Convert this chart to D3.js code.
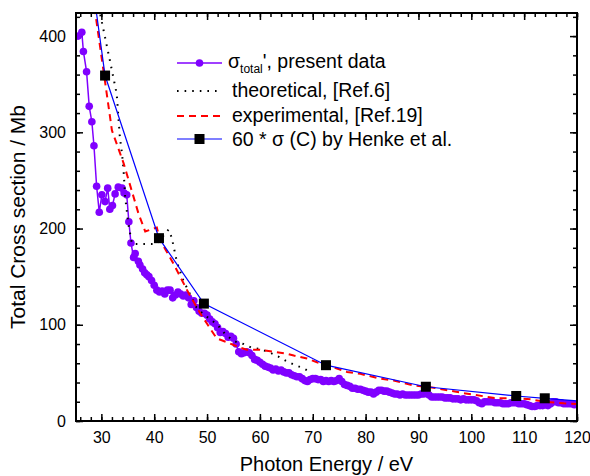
<!DOCTYPE html>
<html>
<head>
<meta charset="utf-8">
<script src="https://cdn.jsdelivr.net/npm/d3@7"></script>
<style>
body{margin:0;background:#fff;}
svg{font-family:Arial,"Liberation Sans",sans-serif;}
</style>
</head>
<body>
<svg id="chart" width="590" height="476"></svg>
<script>
//---------------------------------------------------------------- data
let presentEnergy = [25.6,26.3,26.6,27.2,27.7,28.2,28.6,29.1,29.6,30.1,30.7,31.2,31.6,32.1,32.6,33.2,33.9,34.3,34.8,35.2,35.6,36.1,36.4,
    37.0,37.3,37.8,38.2,38.6,39.0,39.5,40.0,40.5,41.0,41.5,42.0,42.5,43.0,43.5,44.0,44.5,45.0,45.5,46.0,46.5,47.0,47.5,48.0,48.5,49.0,49.5,
    50.0,50.5,51.0,51.5,52.0,52.5,53.0,53.5,54.0,54.5,55.0,55.5,56.0,56.5,57.0,57.5,58.0,58.5,59.0,59.5,60.0,60.5,61.0,61.5,62.0,62.5,
    63.0,63.5,64.0,64.5,65.0,65.5,66.0,66.5,67.0,67.5,68.0,68.5,69.0,69.5,70.0,70.5,71.0,71.5,72.0,72.5,73.0,73.5,74.0,74.5,75.0,75.5,
    76.0,76.5,77.0,77.5,78.0,78.5,79.0,79.5,80.0,80.5,81.0,81.5,82.0,82.5,83.0,83.5,84.0,84.5,85.0,85.5,86.0,86.5,87.0,87.5,88.0,88.5,
    89.0,89.5,90.0,90.5,91.0,91.5,92.0,92.5,93.0,93.5,94.0,94.5,95.0,95.5,96.0,96.5,97.0,97.5,98.0,98.5,99.0,99.5,100.0,100.5,101.0,
    101.5,102.0,102.5,103.0,103.5,104.0,104.5,105.0,105.5,106.0,106.5,107.0,107.5,108.0,108.5,109.0,109.5,110.0,110.5,111.0,111.5,
    112.0,112.5,113.0,113.5,114.0,114.5,115.0,115.5,116.0,116.5,117.0,117.5,118.0,118.5,119.0,119.5];
let presentSigma = [400,404,384,363,327,311,286,244,217,235,228,242,220,224,236,243,242,237,235,207,185,170,174,
    166,162,158,154,152,150,146,141,136,134,135,132,136,136,128,131,134,132,130,131,128,121,125,118,114,112,112,
    110,106,103,101,97,92,93,91,87,88,86,80,72,70,71,72,71,68,64,63,61,59,57,56,55,53,
    54,52,53,51,50,50,48,47,46,46,44,42,41,43,44,44,43,43,41,42,41,42,41,42,44,41,
    38,37,36,34,34,33,33,32,31,30,30,28,30,32,32,31,31,30,29,28,28,27,28,27,27,27,
    27,27,27,28,28,30,27,25,25,25,25,25,24,24,24,23,23,23,22,23,22,22,22,22,21,
    19,18,20,20,20,20,19,19,19,18,18,18,19,19,19,18,18,18,17,16,15,
    15,16,16,16,17,16,18,20,20,19,19,18,18,18,18,17];

let theoryEnergy = [29.5,31.6,32.9,33.5,33.9,34.2,34.5,35.1,35.8,38.0,40.5,42.7,43.3,44.3,45.5,46.5,48.0,49.5,50.6,52.1,53.5,55.0,
    56.9,58.5,60.0,61.9,63.5,65.1,66.7,68.2,69.8];
let theorySigma = [430,375,340,295,278,261,233,205,184,184,184,199,191,165,146,135,118,110,106,99,90,83,
    80,76,75,71,67,62,58,55,50];

let exptEnergy = [28.7,32.0,34.2,37.0,38.3,40.5,41.1,43.6,46.5,48.7,50.0,51.8,53.7,55.9,57.5,60.0,62.6,65.1,66.4,68.9,70.8,73.3,
    76.5,79.0,82.8,85.3,89.1,92.2,93.5,98.5,104.9,108.5,111.2,114.0,117.5,120.0];
let exptSigma = [430,302,268,216,197,201,188,164,133,112,101,86,82,77,74,74,72,70,68,65,61,57,
    51,49,44,42,37,35,34,29,23.5,24,22.5,20,18.4,17.7];

let henkeEnergy = [28.8,30.7,40.9,49.4,72.5,91.4,108.5,113.9,125];
let henkeSigma = [435,359,190,122,58,35.6,26,23.6,18.7];

let xTicks = [30,40,50,60,70,80,90,100,110,120];
let yTicks = [0,100,200,300,400];
let legendLabels = ["theoretical, [Ref.6]","experimental, [Ref.19]","60 * \u03c3 (C) by Henke et al."];

//---------------------------------------------------------------- scales
let svg = d3.select("#chart");
let mLeft = 76, mRight = 577, mTop = 13, mBottom = 421;
let xScale = d3.scaleLinear().domain([25.2,120]).range([mLeft,mRight]);
let yScale = d3.scaleLinear().domain([0,424]).range([mBottom,mTop]);

svg.append("clipPath").attr("id","clip").append("rect")
    .attr("x",mLeft).attr("y",mTop).attr("width",mRight-mLeft).attr("height",mBottom-mTop);

//---------------------------------------------------------------- axes (ticks point inward, all four sides)
let xMinor = d3.range(26,121,2);
let yMinor = d3.range(0,424,20);

function styleAxis(g){
    g.select(".domain").remove();
    g.selectAll(".tick line").attr("stroke","#000").attr("stroke-width",1.5);
    g.selectAll("text").attr("font-size","16px").attr("fill","#000");
}

svg.append("g").attr("transform","translate(0,"+mBottom+")")
    .call(d3.axisBottom(xScale).tickValues(xMinor).tickSize(-4).tickFormat("")).call(styleAxis);
svg.append("g").attr("transform","translate(0,"+mBottom+")")
    .call(d3.axisBottom(xScale).tickValues(xTicks).tickSize(-7).tickPadding(11)).call(styleAxis);
svg.append("g").attr("transform","translate(0,"+mTop+")")
    .call(d3.axisTop(xScale).tickValues(xMinor).tickSize(-4).tickFormat("")).call(styleAxis);
svg.append("g").attr("transform","translate(0,"+mTop+")")
    .call(d3.axisTop(xScale).tickValues(xTicks).tickSize(-7).tickFormat("")).call(styleAxis);

svg.append("g").attr("transform","translate("+mLeft+",0)")
    .call(d3.axisLeft(yScale).tickValues(yMinor).tickSize(-4).tickFormat("")).call(styleAxis);
svg.append("g").attr("transform","translate("+mLeft+",0)")
    .call(d3.axisLeft(yScale).tickValues(yTicks).tickSize(-7).tickPadding(10)).call(styleAxis);
svg.append("g").attr("transform","translate("+mRight+",0)")
    .call(d3.axisRight(yScale).tickValues(yMinor).tickSize(-4).tickFormat("")).call(styleAxis);
svg.append("g").attr("transform","translate("+mRight+",0)")
    .call(d3.axisRight(yScale).tickValues(yTicks).tickSize(-7).tickFormat("")).call(styleAxis);

//---------------------------------------------------------------- series
let plot = svg.append("g").attr("clip-path","url(#clip)");
let line = d3.line().x(d => xScale(d[0])).y(d => yScale(d[1]));

let present = presentEnergy.map((e,i) => [e,presentSigma[i]]);
let theory = theoryEnergy.map((e,i) => [e,theorySigma[i]]);
let expt = exptEnergy.map((e,i) => [e,exptSigma[i]]);
let henke = henkeEnergy.map((e,i) => [e,henkeSigma[i]]);

let purple = "#8000ff";
plot.append("path").datum(present).attr("d",line)
    .attr("fill","none").attr("stroke",purple).attr("stroke-width",1.5);
plot.selectAll(".pt").data(present).enter().append("circle").attr("class","pt")
    .attr("cx",d => xScale(d[0])).attr("cy",d => yScale(d[1])).attr("r",3.8).attr("fill",purple);

plot.append("path").datum(theory).attr("d",line)
    .attr("fill","none").attr("stroke","#000").attr("stroke-width",2).attr("stroke-dasharray","1.6,6");

plot.append("path").datum(expt).attr("d",line)
    .attr("fill","none").attr("stroke","#ff0000").attr("stroke-width",2).attr("stroke-dasharray","7,5");

plot.append("path").datum(henke).attr("d",line)
    .attr("fill","none").attr("stroke","#0000ff").attr("stroke-width",1.2);
plot.selectAll(".sq").data(henke).enter().append("rect").attr("class","sq")
    .attr("x",d => xScale(d[0])-5).attr("y",d => yScale(d[1])-5)
    .attr("width",10).attr("height",10).attr("fill","#000");

//---------------------------------------------------------------- frame
svg.append("rect").attr("x",mLeft).attr("y",mTop).attr("width",mRight-mLeft).attr("height",mBottom-mTop)
    .attr("fill","none").attr("stroke","#000").attr("stroke-width",2);

//---------------------------------------------------------------- legend
let legend = svg.append("g");
let lx1 = 177, lx2 = 222;
legend.append("line").attr("x1",lx1).attr("x2",lx2).attr("y1",63).attr("y2",63)
    .attr("stroke",purple).attr("stroke-width",1.5);
legend.append("circle").attr("cx",199.5).attr("cy",63).attr("r",3.8).attr("fill",purple);
let t1 = legend.append("text").attr("x",228).attr("y",68).attr("font-size","19.5px");
t1.append("tspan").text("\u03c3");
t1.append("tspan").attr("font-size","12px").attr("dy",5).text("total");
t1.append("tspan").attr("dy",-5).text("', present data");

legend.append("line").attr("x1",lx1).attr("x2",lx2).attr("y1",91).attr("y2",91)
    .attr("stroke","#000").attr("stroke-width",2).attr("stroke-dasharray","1.6,6");
legend.append("line").attr("x1",lx1).attr("x2",lx2).attr("y1",116).attr("y2",116)
    .attr("stroke","#ff0000").attr("stroke-width",2).attr("stroke-dasharray","7,5");
legend.append("line").attr("x1",lx1).attr("x2",lx2).attr("y1",139).attr("y2",139)
    .attr("stroke","#0000ff").attr("stroke-width",1.2);
legend.append("rect").attr("x",194.5).attr("y",134).attr("width",10).attr("height",10).attr("fill","#000");

legend.selectAll(".lt").data(legendLabels).enter().append("text").attr("class","lt")
    .attr("x",232).attr("y",(d,i) => [97,122,146][i]).attr("font-size","19.5px").text(d => d);

//---------------------------------------------------------------- axis titles
svg.append("text").attr("x",(mLeft+mRight)/2).attr("y",471).attr("text-anchor","middle")
    .attr("font-size","20px").text("Photon Energy / eV");
svg.append("text").attr("transform","translate(25,"+((mTop+mBottom)/2)+") rotate(-90)")
    .attr("text-anchor","middle").attr("font-size","21px").text("Total Cross section / Mb");
</script>
</body>
</html>
